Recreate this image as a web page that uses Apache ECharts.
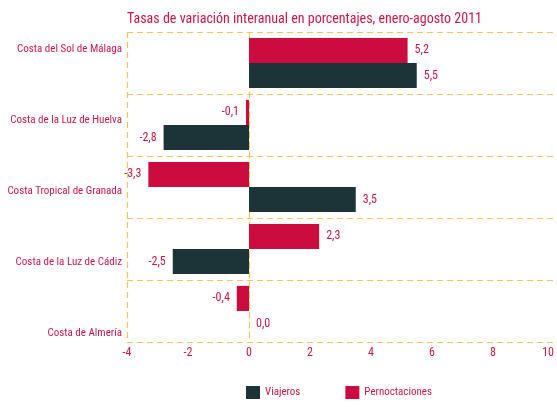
<!DOCTYPE html>
<html>
<head>
<meta charset="utf-8">
<script src="https://cdn.jsdelivr.net/npm/echarts@6/dist/echarts.min.js"></script>
<style>
html,body{margin:0;padding:0;background:#fff;}
#chart{width:557px;height:412px;}
</style>
</head>
<body>
<div id="chart"></div>
<script>
const titleText = 'Tasas de variación interanual en porcentajes, enero-agosto 2011';
const categories = ['Costa del Sol de Málaga', 'Costa de la Luz de Huelva', 'Costa Tropical de Granada', 'Costa de la Luz de Cádiz', 'Costa de Almería'];
const viajeros = [5.5, -2.8, 3.5, -2.5, 0.0];
const pernoctaciones = [5.2, -0.1, -3.3, 2.3, -0.4];
const xTicks = [-4, -2, 0, 2, 4, 6, 8, 10];

const FONT = '"Roboto Condensed", "Liberation Sans", sans-serif';
const RED = '#cc0c3f';
const GREEN = '#1c3437';
const TXT = '#cc1646';
const DASH = '#f6c35e';
const DASHSTYLE = { color: DASH, type: [6, 4], width: 1.2 };

function toItems(vals) {
  return vals.map(v => ({ value: v, label: { position: v < 0 ? 'left' : 'right' } }));
}
function fmt(p) { return p.value.toFixed(1).replace('.', ','); }

const chart = echarts.init(document.getElementById('chart'), null, { renderer: 'canvas' });
chart.setOption({
  animation: false,
  textStyle: { fontFamily: FONT },
  title: {
    text: titleText, left: 127, top: 12, padding: 0,
    textStyle: { color: TXT, fontSize: 14, fontWeight: 'normal', fontFamily: FONT }
  },
  legend: {
    data: ['Viajeros', 'Pernoctaciones'],
    left: 246, top: 386, padding: 0, itemWidth: 14, itemHeight: 13, itemGap: 45,
    icon: 'rect',
    textStyle: { color: TXT, fontSize: 11, fontFamily: FONT }
  },
  grid: [
    { left: 127, right: 1, top: 32, bottom: 70 },
    { left: 127, right: 1, top: 49, bottom: 79 }
  ],
  xAxis: [
    {
      type: 'value', gridIndex: 0, min: xTicks[0], max: xTicks[xTicks.length - 1], interval: 2,
      axisLine: { show: false }, axisTick: { show: false }, splitLine: { show: false },
      axisLabel: { color: TXT, fontSize: 12, margin: 5, fontFamily: FONT, alignMaxLabel: 'right' }
    },
    { type: 'value', gridIndex: 1, min: xTicks[0], max: xTicks[xTicks.length - 1], show: false }
  ],
  yAxis: [
    {
      type: 'category', gridIndex: 0, data: categories, inverse: true,
      axisLine: { show: true, onZero: true, lineStyle: DASHSTYLE },
      axisTick: { show: false },
      axisLabel: { show: false },
      splitLine: { show: true, lineStyle: DASHSTYLE }
    },
    {
      type: 'category', gridIndex: 1, data: categories, inverse: true, boundaryGap: false,
      axisLine: { show: false, onZero: false }, axisTick: { show: false }, splitLine: { show: false },
      axisLabel: { color: TXT, fontSize: 11, margin: 5, fontFamily: FONT }
    }
  ],
  series: [
    {
      name: 'Pernoctaciones', type: 'bar', xAxisIndex: 0, yAxisIndex: 0,
      data: toItems(pernoctaciones), itemStyle: { color: RED },
      barCategoryGap: '19%', barGap: '0%',
      label: { show: true, formatter: fmt, color: TXT, fontSize: 12, distance: 7, fontFamily: FONT }
    },
    {
      name: 'Viajeros', type: 'bar', xAxisIndex: 0, yAxisIndex: 0,
      data: toItems(viajeros), itemStyle: { color: GREEN },
      barCategoryGap: '19%', barGap: '0%',
      label: { show: true, formatter: fmt, color: TXT, fontSize: 12, distance: 7, fontFamily: FONT },
      markLine: {
        silent: true, symbol: 'none', label: { show: false },
        lineStyle: DASHSTYLE,
        data: [{ xAxis: xTicks[0] }]
      }
    }
  ]
});
</script>
</body>
</html>
